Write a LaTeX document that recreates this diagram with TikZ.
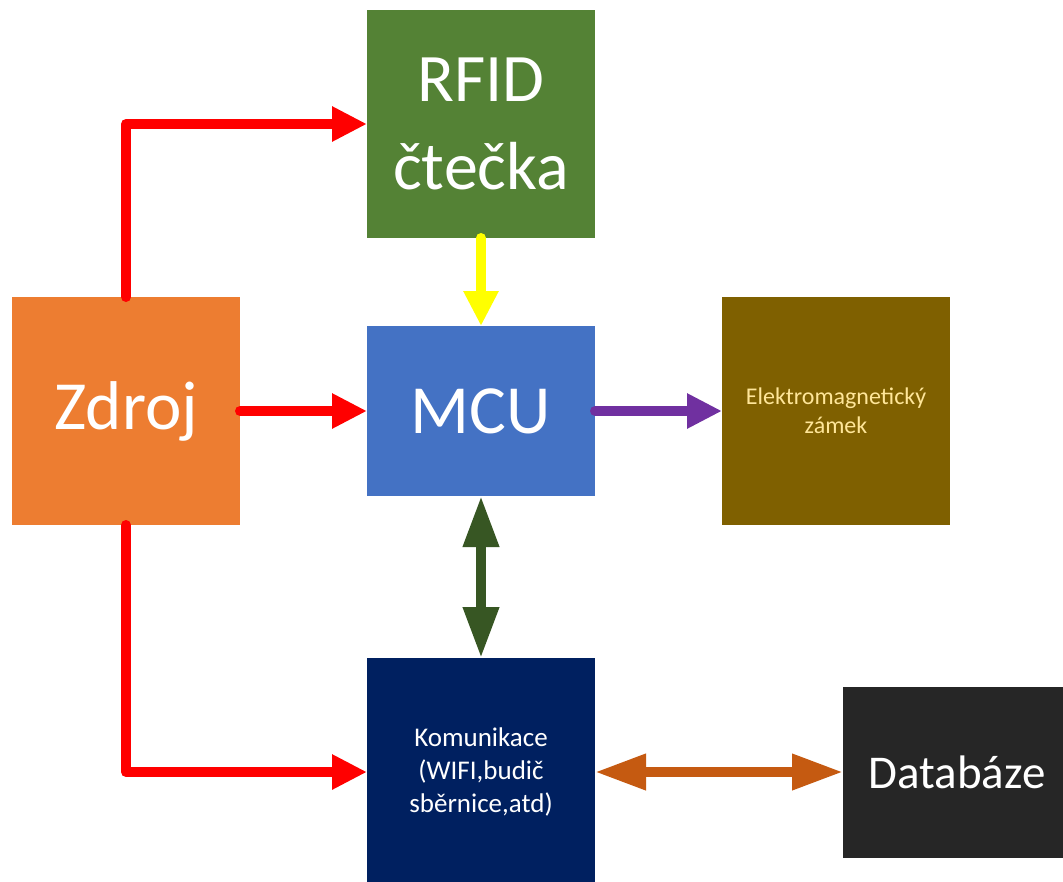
\documentclass[tikz,border=0pt]{standalone}
\usepackage{fontspec}
\setmainfont{Carlito}
\usetikzlibrary{arrows.meta}
\definecolor{cGreen}{HTML}{548235}
\definecolor{cOrange}{HTML}{ED7D31}
\definecolor{cBlue}{HTML}{4472C4}
\definecolor{cGold}{HTML}{7F6000}
\definecolor{cNavy}{HTML}{002060}
\definecolor{cDark}{HTML}{262626}
\definecolor{cRed}{HTML}{FF0000}
\definecolor{cYellow}{HTML}{FFFF00}
\definecolor{cPurple}{HTML}{7030A0}
\definecolor{cDGreen}{HTML}{375623}
\definecolor{cBrown}{HTML}{C55A11}
\definecolor{cPale}{HTML}{FFE699}
\tikzset{
  blockbox/.style={rectangle, inner sep=0pt, outer sep=0pt, minimum width=228pt, align=center, text=white},
  conn/.style={line width=10pt, line cap=round, line join=round},
  tipA/.style={-{Triangle[length=35pt,width=33pt]}},
  tipB/.style={line cap=butt, {Triangle[length=51pt,width=34pt]}-{Triangle[length=51pt,width=34pt]}},
}
\begin{document}
\begin{tikzpicture}[x=1pt,y=1pt]
\useasboundingbox (0,0) rectangle (1063,-881);
\fill[white] (0,0) rectangle (1063,-881);

\node[blockbox, fill=cGreen, minimum height=228pt, font=\fontsize{68}{88}\selectfont] (rfid) at (481,-124) {RFID\\čtečka};
\node[blockbox, fill=cOrange, minimum height=228pt, font=\fontsize{69}{80}\selectfont] (zdroj) at (126,-411) {Zdroj};
\node[blockbox, fill=cBlue, minimum height=170pt, font=\fontsize{69}{80}\selectfont] (mcu) at (481,-411) {MCU};
\node[blockbox, fill=cGold, minimum height=228pt, text=cPale, font=\fontsize{24}{29}\selectfont] (zamek) at (836,-411) {Elektromagnetický\\zámek};
\node[blockbox, fill=cNavy, minimum height=228pt, font=\fontsize{27}{33}\selectfont] (kom) at (481,-772) {Komunikace\\(WIFI,budič\\sběrnice,atd)};
\node[blockbox, fill=cDark, minimum height=171pt, font=\fontsize{47}{56}\selectfont] (db) at (957,-772) {Databáze};

\draw[conn, cRed, tipA] (zdroj.north) |- (rfid.west);
\draw[conn, cRed, tipA] (zdroj.east) -- (mcu.west);
\draw[conn, cRed, tipA] (zdroj.south) |- (kom.west);
\draw[conn, cYellow, tipA] (rfid.south) -- (mcu.north);
\draw[conn, cPurple, tipA] (mcu.east) -- (zamek.west);
\draw[conn, cDGreen, tipB] (mcu.south) -- (kom.north);
\draw[conn, cBrown, tipB] (kom.east) -- (db.west);
\end{tikzpicture}
\end{document}
